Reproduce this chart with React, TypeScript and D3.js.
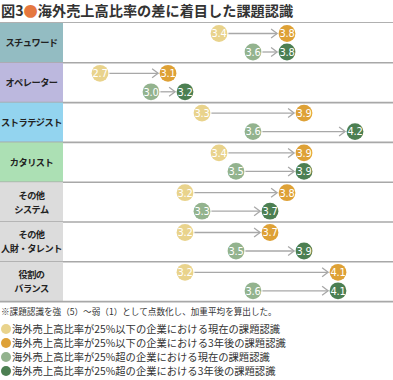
import React from "react";
import * as d3 from "d3";

const W = 393;
const H = 380;

const titlePrefix = "図3";
const titleText = "海外売上高比率の差に着目した課題認識";
const categories = [
  ["スチュワード"],
  ["オペレーター"],
  ["ストラテジスト"],
  ["カタリスト"],
  ["その他", "システム"],
  ["その他", "人財・タレント"],
  ["役割の", "バランス"],
];
const labelColors = ["#93bcc2", "#bcb8de", "#93d4ef", "#ace0b4", "#dcdcdc", "#dcdcdc", "#dcdcdc"];

const lowNow = [3.4, 2.7, 3.3, 3.4, 3.2, 3.2, 3.2];
const low3y = [3.8, 3.1, 3.9, 3.9, 3.8, 3.7, 4.1];
const highNow = [3.6, 3.0, 3.6, 3.5, 3.3, 3.5, 3.6];
const high3y = [3.8, 3.2, 4.2, 3.9, 3.7, 3.9, 4.1];

const seriesColors = ["#e9d38c", "#dea136", "#93b38e", "#4c7f52"];
const footnote = "※課題認識を強（5）～弱（1）として点数化し、加重平均を算出した。";
const legendLabels = [
  "海外売上高比率が25%以下の企業における現在の課題認識",
  "海外売上高比率が25%以下の企業における3年後の課題認識",
  "海外売上高比率が25%超の企業における現在の課題認識",
  "海外売上高比率が25%超の企業における3年後の課題認識",
];

const FONT = "'Noto Sans CJK JP', 'Noto Sans', sans-serif";
const NUMFONT = "'Liberation Sans Narrow', 'DejaVu Sans Condensed', 'Roboto', sans-serif";

export default function App() {
  const top = 23;
  const rowH = 39.8;
  const x = d3.scaleLinear().domain([2.7, 4.2]).range([100, 355]);
  const r = 8.4;
  const rows = d3.range(categories.length);
  const y = d3.scaleBand<number>().domain(rows).range([top, top + rowH * rows.length]);

  const pair = (a: number, b: number, cy: number, ca: string, cb: string, key: string) => {
    const x1 = x(a) + r + 1;
    const x2 = x(b) - r - 1.5;
    return (
      <g key={key}>
        <line x1={x1} x2={x2} y1={cy} y2={cy} stroke="#a8a8a8" strokeWidth={1.3} />
        <polyline
          points={`${x2 - 6},${cy - 4.5} ${x2},${cy} ${x2 - 6},${cy + 4.5}`}
          fill="none"
          stroke="#a8a8a8"
          strokeWidth={1.3}
        />
        {[
          [a, ca],
          [b, cb],
        ].map(([v, c], i) => (
          <g key={i}>
            <circle cx={x(v as number)} cy={cy} r={r} fill={c as string} />
            <text
              x={x(v as number)}
              y={cy + 3.8}
              textAnchor="middle"
              fontFamily={NUMFONT}
              fontSize={11}
              fill="#fff"
              letterSpacing={-0.3}
            >
              {(v as number).toFixed(1)}
            </text>
          </g>
        ))}
      </g>
    );
  };

  return (
    <svg width={W} height={H} style={{ position: "absolute", left: 0, top: 0, background: "#fff" }}>
      <text x={1} y={16} fontFamily={FONT} fontSize={14.2} fontWeight={700} fill="#333">
        {titlePrefix}
        <tspan fill="#e5773f">●</tspan>
        {titleText}
      </text>
      <line x1={0} x2={W} y1={top - 0.5} y2={top - 0.5} stroke="#b0b0b0" strokeWidth={1} />
      {rows.map((i) => {
        const y0 = y(i)!;
        const lines = categories[i];
        return (
          <g key={i}>
            <rect x={0} y={y0} width={63} height={rowH} fill={labelColors[i]} />
            {lines.map((t, j) => (
              <text
                key={j}
                x={31.5}
                y={y0 + rowH / 2 + 3.5 + (j - (lines.length - 1) / 2) * 14}
                textAnchor="middle"
                fontFamily={FONT}
                fontSize={9.2}
                fontWeight={700}
                letterSpacing={-0.5}
                fill="#222"
              >
                {t}
              </text>
            ))}
            <line x1={0} x2={W} y1={y0 + rowH} y2={y0 + rowH} stroke="#a8a8a8" strokeWidth={1.6} />
            {pair(lowNow[i], low3y[i], y0 + 10.5, seriesColors[0], seriesColors[1], "a")}
            {pair(highNow[i], high3y[i], y0 + 29, seriesColors[2], seriesColors[3], "b")}
          </g>
        );
      })}
      <text x={1} y={315} fontFamily={FONT} fontSize={8.6} fill="#333">
        {footnote}
      </text>
      {legendLabels.map((t, i) => (
        <g key={i}>
          <circle cx={6} cy={329 + i * 14} r={5} fill={seriesColors[i]} />
          <text x={12} y={333 + i * 14} fontFamily={FONT} fontSize={10.3} fill="#333">
            {t}
          </text>
        </g>
      ))}
    </svg>
  );
}
